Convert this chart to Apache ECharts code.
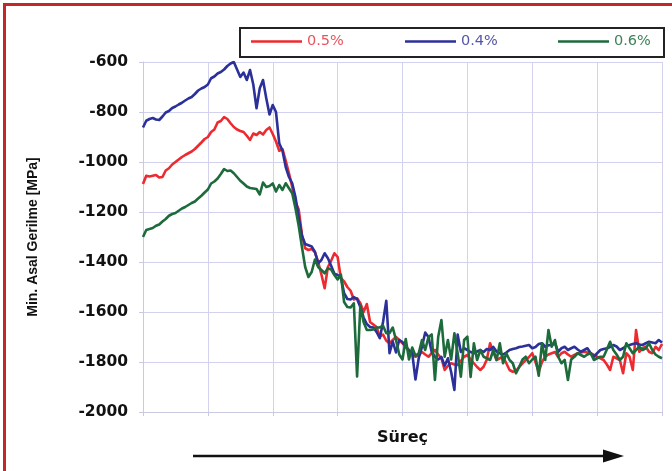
<!DOCTYPE html>
<html>
<head>
<meta charset="utf-8">
<script src="https://cdn.jsdelivr.net/npm/echarts@6/dist/echarts.min.js"></script>
<style>
  html, body { margin: 0; padding: 0; background: #fff; }
  #chart { width: 672px; height: 471px; }
</style>
</head>
<body>
<div id="chart"></div>
<script>
// Sampling step along the process axis (0 .. 80)
const STEP = 0.5;

// Minimum principal stress [MPa] for each alloy content
const seriesNames = ['0.5%', '0.4%', '0.6%'];

const s05 = [
  -1088, -1055, -1058, -1055, -1052, -1062, -1060, -1034, -1025, -1010,
  -1000, -990, -980, -972, -965, -958, -948, -935, -922, -908,
  -900, -880, -870, -842, -836, -820, -828, -845, -860, -870,
  -876, -880, -895, -912, -886, -892, -880, -890, -872, -862,
  -888, -918, -955, -948, -995, -1045, -1100, -1160, -1190, -1290,
  -1345, -1352, -1348, -1360, -1400, -1450, -1505, -1420, -1395, -1365,
  -1380, -1465, -1478, -1500, -1515, -1550, -1545, -1565, -1600, -1568,
  -1640, -1650, -1660, -1699, -1690, -1715, -1725, -1712, -1700, -1712,
  -1725, -1738, -1752, -1765, -1779, -1772, -1760, -1770, -1779, -1765,
  -1752, -1770, -1785, -1832, -1815, -1805, -1810, -1812, -1795, -1779,
  -1772, -1790, -1805, -1820, -1832, -1819, -1790, -1725, -1760, -1792,
  -1785, -1779, -1805, -1832, -1839, -1836, -1819, -1805, -1792, -1780,
  -1765, -1800, -1839, -1800, -1779, -1770, -1765, -1760, -1780, -1765,
  -1759, -1770, -1779, -1772, -1765, -1762, -1759, -1762, -1765, -1772,
  -1779, -1785, -1792, -1810, -1832, -1779, -1785, -1792, -1845, -1765,
  -1779, -1832, -1672, -1759, -1745, -1739, -1759, -1765, -1739, -1752,
  -1728
];

const s04 = [
  -862, -835, -828, -824, -830, -832, -818, -802, -796, -784,
  -778, -770, -763, -754, -746, -740, -728, -714, -706, -700,
  -690, -665, -658, -646, -640, -630, -616, -606, -600, -630,
  -660, -642, -672, -632, -690, -785, -705, -672, -745, -810,
  -772, -800, -925, -955, -1020, -1060, -1085, -1140, -1220, -1295,
  -1328, -1333, -1338, -1360, -1405, -1392, -1365, -1385, -1415, -1447,
  -1452, -1460, -1525, -1548, -1550, -1540, -1548, -1580, -1622, -1648,
  -1660, -1662, -1680, -1705, -1640, -1555, -1765, -1718, -1762, -1712,
  -1720, -1740, -1755, -1765, -1870, -1785, -1740, -1682, -1700, -1760,
  -1779, -1790, -1780, -1815, -1785, -1840, -1912, -1690, -1760, -1745,
  -1752, -1760, -1765, -1758, -1752, -1760, -1748, -1752, -1740, -1758,
  -1765, -1770, -1762, -1752, -1748, -1745, -1740, -1738, -1735, -1732,
  -1745, -1740, -1728, -1725, -1739, -1733, -1732, -1725, -1759, -1745,
  -1739, -1752, -1745, -1739, -1750, -1759, -1752, -1745, -1765, -1779,
  -1765, -1752, -1748, -1745, -1740, -1732, -1738, -1752, -1745, -1735,
  -1732, -1728, -1725, -1730, -1732, -1725, -1719, -1722, -1725, -1712,
  -1722
];

const s06 = [
  -1300, -1272, -1268, -1264, -1255, -1250, -1238, -1228, -1215, -1208,
  -1204, -1195, -1186, -1180, -1172, -1164, -1158, -1146, -1135, -1122,
  -1110, -1086, -1078, -1066, -1048, -1028, -1036, -1034, -1045, -1060,
  -1075, -1086, -1098, -1104, -1106, -1108, -1130, -1082, -1100, -1096,
  -1086, -1118, -1092, -1112, -1085, -1105, -1125, -1185, -1255, -1340,
  -1420, -1460, -1440, -1390, -1420, -1432, -1445, -1425, -1430, -1452,
  -1470, -1450, -1560, -1580, -1582, -1565, -1858, -1575, -1640, -1672,
  -1672, -1670, -1662, -1662, -1655, -1685, -1684, -1662, -1712, -1770,
  -1790, -1708, -1790, -1742, -1775, -1765, -1712, -1752, -1700, -1690,
  -1872, -1700, -1632, -1779, -1712, -1790, -1685, -1765, -1859, -1712,
  -1699, -1860, -1725, -1792, -1752, -1779, -1785, -1792, -1752, -1792,
  -1725, -1805, -1765, -1792, -1805, -1845, -1819, -1790, -1779, -1805,
  -1790, -1779, -1855, -1725, -1792, -1672, -1739, -1712, -1779, -1805,
  -1792, -1872, -1790, -1779, -1765, -1772, -1779, -1770, -1765, -1792,
  -1785, -1779, -1779, -1750, -1719, -1752, -1770, -1792, -1779, -1725,
  -1745, -1765, -1752, -1739, -1752, -1745, -1725, -1752, -1770, -1779,
  -1785
];

// Axis settings
const yMin = -2000, yMax = -600, yStep = 200;
const xMin = 0, xMax = 80, xStep = 10;
const yAxisTitle = 'Min. Asal Gerilme [MPa]';
const xAxisTitle = 'Süreç';

const colors = ['#ec2a2f', '#2c3199', '#1d6a3b'];
const legendText = ['#e9535b', '#5356a6', '#3d8358'];

function toPairs(values) {
  return values.map((v, i) => [xMin + i * STEP, v]);
}

const chart = echarts.init(document.getElementById('chart'), null, { renderer: 'canvas' });

const legendLeft = [251, 405, 558];

chart.setOption({
  animation: false,
  backgroundColor: '#ffffff',
  grid: { left: 143, right: 10, top: 62, bottom: 59, containLabel: false },
  legend: seriesNames.map((name, k) => ({
    data: [{ name: name, textStyle: { color: legendText[k] } }],
    left: legendLeft[k],
    top: 34,
    padding: 0,
    icon: 'rect',
    itemWidth: 51,
    itemHeight: 2.5,
    selectedMode: false,
    textStyle: { fontFamily: 'DejaVu Sans', fontSize: 14.5 }
  })),
  xAxis: {
    type: 'value',
    min: xMin, max: xMax, interval: xStep,
    name: xAxisTitle,
    nameLocation: 'middle',
    nameGap: 18,
    nameTextStyle: { fontFamily: 'DejaVu Sans', fontWeight: 'bold', fontSize: 16, color: '#111' },
    axisLabel: { show: false },
    axisLine: { show: true, lineStyle: { color: '#c9c9e2', width: 1 } },
    axisTick: { show: true, length: 4, lineStyle: { color: '#c9c9e2' } },
    splitLine: { show: true, lineStyle: { color: '#d2d2ee', width: 1 } }
  },
  yAxis: {
    type: 'value',
    min: yMin, max: yMax, interval: yStep,
    name: yAxisTitle,
    nameLocation: 'middle',
    nameGap: 103,
    nameRotate: 90,
    nameTextStyle: { fontFamily: 'Liberation Sans', fontWeight: 'bold', fontSize: 14, color: '#111' },
    axisLabel: {
      margin: 15,
      formatter: (v) => String(v),
      fontFamily: 'DejaVu Sans', fontWeight: 'bold', fontSize: 15.5, color: '#111'
    },
    axisLine: { show: true, lineStyle: { color: '#c9c9e2', width: 1 } },
    axisTick: { show: true, length: 4, lineStyle: { color: '#c9c9e2' } },
    splitLine: { show: true, lineStyle: { color: '#d2d2ee', width: 1 } }
  },
  series: [s05, s04, s06].map((vals, k) => ({
    name: seriesNames[k],
    type: 'line',
    data: toPairs(vals),
    symbol: 'none',
    color: colors[k],
    lineStyle: { color: colors[k], width: 2.6, join: 'round' },
    z: 2 + k
  })),
  graphic: [
    // page frame
    { type: 'rect', shape: { x: 3, y: 3, width: 3, height: 471 }, style: { fill: '#c4262e' }, silent: true },
    { type: 'rect', shape: { x: 3, y: 3, width: 672, height: 3 }, style: { fill: '#c4262e' }, silent: true },
    // legend frame
    { type: 'rect', z: -1, shape: { x: 240, y: 28, width: 424, height: 29 },
      style: { fill: '#ffffff', stroke: '#222222', lineWidth: 2 }, silent: true },
    // process direction arrow
    { type: 'line', shape: { x1: 193, y1: 456, x2: 606, y2: 456 },
      style: { stroke: '#111111', lineWidth: 2.6 }, silent: true },
    { type: 'polygon', shape: { points: [[603, 449.5], [624, 456], [603, 462.5]] },
      style: { fill: '#111111' }, silent: true }
  ]
});
</script>
</body>
</html>
